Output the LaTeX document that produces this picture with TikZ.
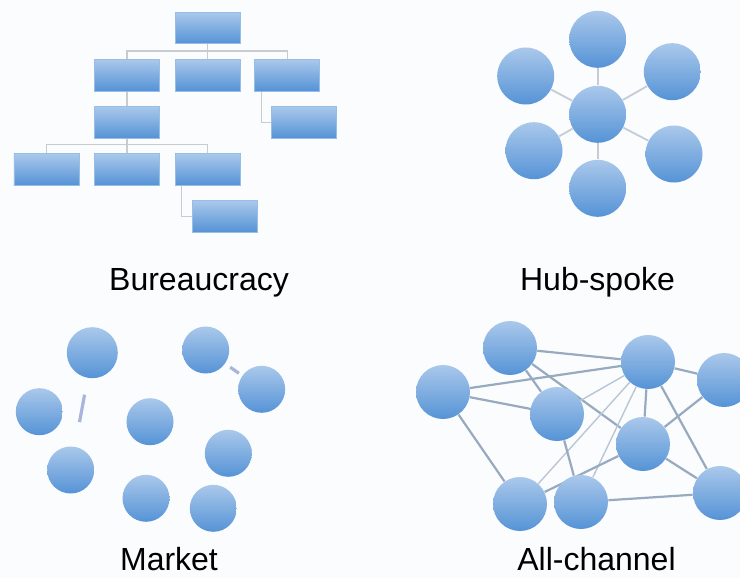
\documentclass[tikz,border=0pt]{standalone}
\usepackage{fontspec}
\setmainfont{Liberation Sans}
\usetikzlibrary{positioning}
\definecolor{paper}{HTML}{FBFCFE}
\definecolor{bluetop}{HTML}{AAC8EB}
\definecolor{bluebot}{HTML}{5593D6}
\definecolor{treeline}{HTML}{C8CBD0}
\definecolor{spokeline}{HTML}{C4CCD6}
\definecolor{netline}{HTML}{98AABF}
\definecolor{faintline}{HTML}{B9C6D4}
\definecolor{marketline}{HTML}{A8B5DD}
\pgfdeclarelayer{background}
\pgfsetlayers{background,main}

\begin{document}
\begin{tikzpicture}[x=0.5pt, y=-0.5pt,
        box/.style={
            rectangle,
            top color=bluetop,
            bottom color=bluebot,
            draw=bluebot!60!white,
            line width=0.3pt,
            minimum width=32.5pt,
            minimum height=15.75pt,
            inner sep=0pt},
        ball/.style={
            circle,
            top color=bluetop,
            bottom color=bluebot,
            inner sep=0pt,
            minimum size=#1},
        ball/.default=47pt,
        netlabel/.style={
            font=\fontsize{16}{19}\selectfont,
            anchor=base,
            inner sep=0pt},
        tree/.style={treeline, line width=0.6pt},
        spoke/.style={spokeline, line width=0.9pt},
        link/.style={netline, line width=1.1pt},
        thinlink/.style={faintline, line width=0.7pt},
        trade/.style={marketline, line width=1.6pt}]

    \useasboundingbox (0,0) rectangle (740,578);
    \begin{pgfonlayer}{background}
        \fill[paper] (0,0) rectangle (740,578);
    \end{pgfonlayer}

    % Bureaucracy
    \node[box] (chief) at (207.5,28) {};
    \node[box, below=7.5pt of chief] (deptB) {};
    \node[box, left=7.5pt of deptB] (deptA) {};
    \node[box, right=7pt of deptB] (deptC) {};
    \node[box, below=7.5pt of deptA] (unitA) {};
    \node[box, below=7.5pt of deptC, xshift=8.5pt] (unitC) {};
    \node[box, below=7.5pt of unitA] (staffB) {};
    \node[box, left=7.5pt of staffB] (staffA) {};
    \node[box, right=7.5pt of staffB] (staffC) {};
    \node[box, below=7.5pt of staffC, xshift=8.5pt] (aide) {};
    \begin{pgfonlayer}{background}
        \draw[tree] (chief) -- (deptB);
        \draw[tree] (deptA.north) -- ++(0,-8) -| (deptC.north);
        \draw[tree] (deptA) -- (unitA);
        \draw[tree] ([xshift=3.5pt]deptC.south west) |- (unitC.west);
        \draw[tree] (unitA) -- (staffB);
        \draw[tree] (staffA.north) -- ++(0,-9) -| (staffC.north);
        \draw[tree] ([xshift=3.5pt]staffC.south west) |- (aide.west);
    \end{pgfonlayer}
    \node[netlabel] (bureaulabel) at (199,290) {Bureaucracy};

    % Hub-spoke
    \node[ball=28.5pt] (hub) at (597.7,114.3) {};
    \node[ball=28.5pt] (spokeN) at (597.7,39.3) {};
    \node[ball=28.5pt] (spokeNE) at (672.3,71.7) {};
    \node[ball=28.5pt] (spokeSE) at (674,154) {};
    \node[ball=28.5pt] (spokeS) at (597.7,188.3) {};
    \node[ball=28.5pt] (spokeSW) at (534,150.7) {};
    \node[ball=28.5pt] (spokeNW) at (525.7,76) {};
    \begin{pgfonlayer}{background}
        \draw[spoke] (hub) -- (spokeN);
        \draw[spoke] (hub) -- (spokeNE);
        \draw[spoke] (hub) -- (spokeSE);
        \draw[spoke] (hub) -- (spokeS);
        \draw[spoke] (hub) -- (spokeSW);
        \draw[spoke] (hub) -- (spokeNW);
    \end{pgfonlayer}
    \node[netlabel] (hublabel) at (597.5,290) {Hub-spoke};

    % Market
    \node[ball=25.5pt] (trader1) at (92.3,352.7) {};
    \node[ball=23.5pt] (trader2) at (205.7,350) {};
    \node[ball=23.5pt] (trader3) at (261.7,389.3) {};
    \node[ball=23.5pt] (trader4) at (39.3,411.7) {};
    \node[ball=23.5pt] (trader5) at (150,421.7) {};
    \node[ball=23.5pt] (trader6) at (70.7,470) {};
    \node[ball=23.5pt] (trader7) at (228.3,453.3) {};
    \node[ball=23.5pt] (trader8) at (146,498.3) {};
    \node[ball=23.5pt] (trader9) at (213.3,508.3) {};
    \draw[trade, shorten <=8.4pt, shorten >=12.4pt] (trader1) -- (trader6);
    \draw[trade, shorten <=3pt, shorten >=2pt] (trader2) -- (trader3);
    \node[netlabel] (marketlabel) at (169,570) {Market};

    % All-channel
    \node[ball=27pt] (peerA) at (510,348) {};
    \node[ball=27pt] (peerB) at (443,392) {};
    \node[ball=27pt] (peerC) at (648,362) {};
    \node[ball=27pt] (peerD) at (724,380) {};
    \node[ball=27pt] (peerE) at (557,414) {};
    \node[ball=27pt] (peerF) at (643,444) {};
    \node[ball=27pt] (peerG) at (520,504) {};
    \node[ball=27pt] (peerH) at (581,502) {};
    \node[ball=27pt] (peerI) at (720,493) {};
    \begin{pgfonlayer}{background}
        \draw[link] (peerA) -- (peerC);
        \draw[link] (peerA) -- (peerE);
        \draw[link] (peerA) -- (peerF);
        \draw[link] (peerB) -- (peerC);
        \draw[link] (peerB) -- (peerE);
        \draw[link] (peerB) -- (peerG);
        \draw[link] (peerC) -- (peerD);
        \draw[thinlink] (peerC) -- (peerE);
        \draw[link] (peerC) -- (peerF);
        \draw[link] (peerC) -- (peerI);
        \draw[thinlink] (peerC) -- (peerG);
        \draw[thinlink] (peerC) -- (peerH);
        \draw[link] (peerD) -- (peerF);
        \draw[link] (peerE) -- (peerH);
        \draw[link] (peerF) -- (peerG);
        \draw[link] (peerF) -- (peerI);
        \draw[link] (peerH) -- (peerI);
    \end{pgfonlayer}
    \node[netlabel] (alllabel) at (596.5,570) {All-channel};
\end{tikzpicture}
\end{document}
